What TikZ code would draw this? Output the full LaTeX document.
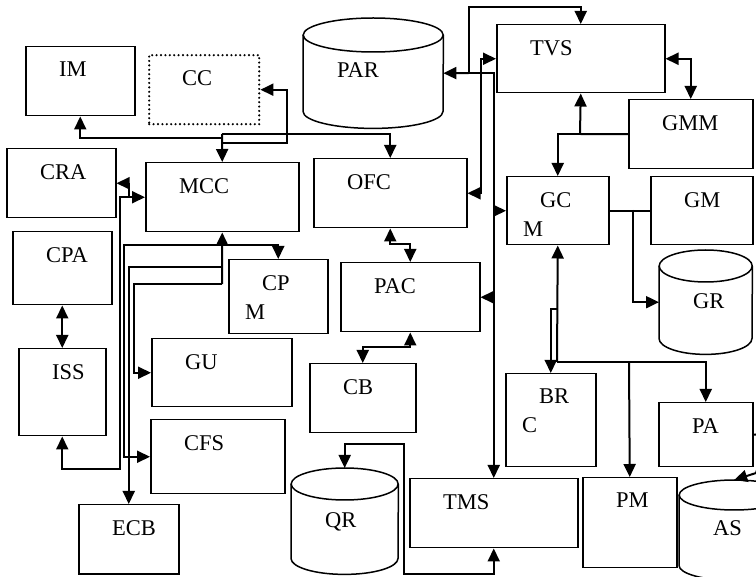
\documentclass[tikz,border=0pt]{standalone}
\usepackage{fontspec}
\setmainfont{Liberation Serif}
\usetikzlibrary{arrows.meta}

\newcommand\cylnode[8]{%
  \node[anchor=north west, inner sep=0pt, size={#4}{#5},
        label={[lbl, yshift=-#8pt]north west:#7}] (#1) at (#2,#3) {};
  \draw[line width=1.5pt] ([yshift=-#6pt]#1.north) ellipse [x radius=#4pt/2, y radius=#6pt];
  \draw[line width=1.5pt] ([yshift=-#6pt]#1.north west) -- ([yshift=#6pt]#1.south west)
    arc[start angle=180, end angle=360, x radius=#4pt/2, y radius=#6pt]
    -- ([yshift=-#6pt]#1.north east);
}

\begin{document}
\begin{tikzpicture}[x=1pt, y=-1pt,
    blk/.style={draw, line width=1.5pt, anchor=north west, inner sep=0pt},
    size/.style 2 args={minimum width=#1pt, minimum height=#2pt},
    lbl/.style={anchor=north west, inner sep=0pt, xshift=34pt, yshift=-16pt,
                align=left, font=\fontsize{22.5}{29}\selectfont},
    txt/.style={label={[lbl]north west:#1}},
    txt2/.style={label={[lbl, xshift=-17pt]north west:#1}},
    dotbox/.style={dash pattern=on 0pt off 4.4pt, line cap=round, line width=2.4pt},
    arr/.style={line width=2pt, -{Triangle[length=13pt, width=12pt]}},
    arr2/.style={line width=2pt, {Triangle[length=13pt, width=12pt]}-{Triangle[length=13pt, width=12pt]}},
    wire/.style={line width=2pt}
]
\useasboundingbox (0,0) rectangle (756,577);
\clip (0,0) rectangle (756,577);

\node[blk, size={109}{69}, txt=IM] (im) at (25,46) {};
\node[blk, dotbox, size={110}{69}, txt=CC] (cc) at (148,54) {};
\node[blk, size={109}{69}, txt=CRA] (cra) at (6,148) {};
\node[blk, size={153}{69}, txt=MCC] (mcc) at (145,162) {};
\node[blk, size={99}{73}, txt=CPA] (cpa) at (12,231) {};
\node[blk, size={87}{87}, txt=ISS] (iss) at (18,348) {};
\node[blk, size={99}{74}, txt2={\hspace*{17pt}CP\\M}] (cpm) at (228,259) {};
\node[blk, size={140}{68}, txt=GU] (gu) at (151,338) {};
\node[blk, size={134}{74}, txt=CFS] (cfs) at (150,419) {};
\node[blk, size={100}{69}, txt=ECB] (ecb) at (78,504) {};
\node[blk, size={153}{69}, txt=OFC] (ofc) at (313,158) {};
\node[blk, size={139}{69}, txt=PAC] (pac) at (340,262) {};
\node[blk, size={106}{69}, txt=CB] (cb) at (309,363) {};
\node[blk, size={168}{69}, txt=TMS] (tms) at (409,478) {};
\node[blk, size={168}{68}, txt=TVS] (tvs) at (496,24) {};
\node[blk, size={124}{69}, txt=GMM] (gmm) at (628,99) {};
\node[blk, size={102}{68}, txt2={\hspace*{17pt}GC\\M}] (gcm) at (506,176) {};
\node[blk, size={102}{68}, txt=GM] (gm) at (650,176) {};
\node[blk, size={90}{93}, txt2={\hspace*{17pt}BR\\C}] (brc) at (505,373) {};
\node[blk, size={94}{90}, txt=PM] (pm) at (582,477) {};
\node[blk, size={94}{64}, txt=PA] (pa) at (658,402) {};

\cylnode{par}{303}{18}{140}{110}{17}{PAR}{28}
\cylnode{gr}{659}{250}{93}{104}{16}{GR}{27}
\cylnode{qr}{291}{468}{107}{106}{16}{QR}{28}
\cylnode{as}{679}{480}{110}{100}{15}{AS}{24}

\coordinate (b1) at (222,134);
\coordinate (b2) at (222,138);
\coordinate (b3) at (222,143);
\coordinate (b4) at (287,143);
\coordinate (c1) at (129,197);
\coordinate (d1) at (120,469);
\coordinate (e1) at (222,245);
\coordinate (e2) at (222,267);
\coordinate (e3) at (222,284);
\coordinate (e4) at (124,245);
\coordinate (e5) at (134,284);
\coordinate (f1) at (400,244);
\coordinate (f2) at (385,347);
\coordinate (p1) at (469,73);
\coordinate (p3) at (469,7);
\coordinate (g1) at (481,120);
\coordinate (h1) at (494,250);
\coordinate (k1) at (580,134);
\coordinate (m1) at (633,210);
\coordinate (n1) at (557,362);
\coordinate (n2) at (629,362);
\coordinate (n3) at (557,309);
\coordinate (q1) at (770,433);
\coordinate (q2) at (756,473);
\coordinate (r1) at (404,444);
\coordinate (r2) at (404,574);

\draw[arr] (b1) -- (mcc.north);
\draw[arr] (b1) -| (ofc.north);
\draw[arr] (b2) -| (im.south);
\draw[arr] (b3) -- (b4) |- (cc.east);
\draw[arr] (c1) |- (cra.east);
\draw[arr2] (iss.south) |- (d1) |- (mcc.west);
\draw[arr2] (cpa.south) -- (iss.north);
\draw[arr] (e3) -- (mcc.south);
\draw[arr] (e1) -| (cpm.north);
\draw[arr] (e1) -- (e4) |- (cfs.west);
\draw[arr] (e2) -| (ecb.north);
\draw[arr] (e3) -- (e5) |- (gu.west);
\draw[arr2] (ofc.south) |- (f1) -| (pac.north);
\draw[arr2] (pac.south) |- (f2) -| (cb.north);
\draw[arr] (p1) -- (par.east);
\draw[arr] (p1) -- (p3) -| (tvs.north);
\draw[arr] (p1) -| (tms.north);
\draw[arr2] (ofc.east) -| (g1) |- (tvs.west);
\draw[arr2] (pac.east) -| (h1) |- (gcm.west);
\draw[arr2] (tvs.east) -| (gmm.north);
\draw[arr] (gmm.west) -- (k1) -- (tvs.south);
\draw[arr] (k1) -| (gcm.north);
\draw[wire] (gcm.east) -- (gm.west);
\draw[arr] (m1) |- (gr.west);
\draw[arr] (n1) -- (gcm.south);
\draw[arr] (n1) -| (pa.north);
\draw[arr] (n2) -- (pm.north);
\draw[arr] (n3) -| (brc.north);
\draw[arr] (pa.east) -- (q1) -- (q2) -- (as.north);
\draw[arr2] (qr.north) |- (r1) -- (r2) -| (tms.south);
\end{tikzpicture}
\end{document}
